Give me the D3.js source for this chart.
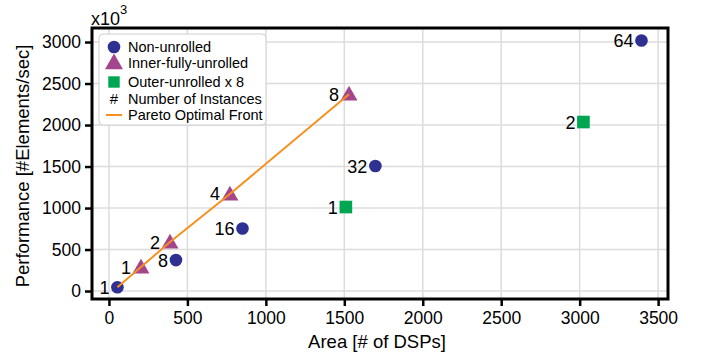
<!DOCTYPE html>
<html>
<head>
<meta charset="utf-8">
<script src="https://cdn.jsdelivr.net/npm/d3@7"></script>
<style>
  body { margin: 0; background: #fff; }
  svg { display: block; font-family: "Liberation Sans", Arial, Helvetica, sans-serif; }
</style>
</head>
<body>
<div id="chart"></div>
<script>
// data (performance in x10^3 elements/sec)
const nonArea = [54, 427, 851, 1698, 3394];
const nonPerf = [45, 373, 753, 1506, 3018];
const nonInst = [1, 8, 16, 32, 64];

const innerArea = [204, 389, 771, 1530];
const innerPerf = [289, 590, 1169, 2372];
const innerInst = [1, 2, 4, 8];

const outerArea = [1510, 3024];
const outerPerf = [1012, 2036];
const outerInst = [1, 2];

const paretoArea = [54, 204, 389, 771, 1530];
const paretoPerf = [45, 289, 590, 1169, 2372];

const xTicks = [0, 500, 1000, 1500, 2000, 2500, 3000, 3500];
const yTicks = [0, 500, 1000, 1500, 2000, 2500, 3000];

const legendNames = ["Non-unrolled", "Inner-fully-unrolled", "Outer-unrolled x 8", "Number of Instances", "Pareto Optimal Front"];

// colours
const navy = "#2e3192", purple = "#a3468e", green = "#00a651", orange = "#f7901e";

const width = 701, height = 356;
const plotL = 92, plotR = 668, plotT = 28, plotB = 299;

const svg = d3.select("#chart").append("svg")
  .attr("width", width)
  .attr("height", height);

const x = d3.scaleLinear().domain([-108, 3563]).range([plotL, plotR]);
const y = d3.scaleLinear().domain([-96, 3169]).range([plotB, plotT]);

// grid
svg.append("g").selectAll("line")
  .data(xTicks).enter().append("line")
    .attr("x1", d => x(d)).attr("x2", d => x(d))
    .attr("y1", plotT).attr("y2", plotB)
    .attr("stroke", "#dcdcdc").attr("stroke-width", 1.5);
svg.append("g").selectAll("line")
  .data(yTicks).enter().append("line")
    .attr("x1", plotL).attr("x2", plotR)
    .attr("y1", d => y(d)).attr("y2", d => y(d))
    .attr("stroke", "#dcdcdc").attr("stroke-width", 1.5);

// axes
const xAxis = svg.append("g")
  .attr("transform", "translate(0," + plotB + ")")
  .call(d3.axisBottom(x).tickValues(xTicks).tickSize(7).tickPadding(6).tickFormat(d3.format("d")));
const yAxis = svg.append("g")
  .attr("transform", "translate(" + plotL + ",0)")
  .call(d3.axisLeft(y).tickValues(yTicks).tickSize(7).tickPadding(4).tickFormat(d3.format("d")));

[xAxis, yAxis].forEach(a => {
  a.select(".domain").remove();
  a.selectAll(".tick line").attr("stroke", "#000").attr("stroke-width", 2.5);
  a.selectAll(".tick text")
    .attr("fill", "#000")
    .style("font-size", "17.5px")
    .style("font-family", "'Liberation Sans', Arial, sans-serif");
});

// frame
svg.append("rect")
  .attr("x", plotL).attr("y", plotT)
  .attr("width", plotR - plotL).attr("height", plotB - plotT)
  .attr("fill", "none").attr("stroke", "#000").attr("stroke-width", 3);

// axis titles
svg.append("text")
  .attr("x", 377).attr("y", 348)
  .attr("text-anchor", "middle")
  .style("font-size", "18.5px")
  .text("Area [# of DSPs]");
svg.append("text")
  .attr("transform", "translate(29,166) rotate(-90)")
  .attr("text-anchor", "middle")
  .style("font-size", "18.5px")
  .text("Performance [#Elements/sec]");

// x10^3
const mult = svg.append("text").attr("x", 91).attr("y", 25).style("font-size", "18px");
mult.append("tspan").text("x10");
mult.append("tspan").attr("dy", -11).style("font-size", "13px").text("3");

// series
const nonData = nonArea.map((a, i) => ({ a: a, p: nonPerf[i], n: nonInst[i] }));
const innerData = innerArea.map((a, i) => ({ a: a, p: innerPerf[i], n: innerInst[i] }));
const outerData = outerArea.map((a, i) => ({ a: a, p: outerPerf[i], n: outerInst[i] }));

const circleSym = d3.symbol().type(d3.symbolCircle).size(125);
const triSym = d3.symbol().type(d3.symbolTriangle).size(125);
const sqSym = d3.symbol().type(d3.symbolSquare).size(160);

function plotSeries(data, sym, color, dyTri, gap) {
  const g = svg.append("g");
  g.selectAll("path").data(data).enter().append("path")
    .attr("d", sym)
    .attr("transform", d => "translate(" + x(d.a) + "," + (y(d.p) + dyTri) + ")")
    .attr("fill", color);
  g.selectAll("text").data(data).enter().append("text")
    .attr("x", d => x(d.a) - gap)
    .attr("y", d => y(d.p))
    .attr("dy", "0.36em")
    .attr("text-anchor", "end")
    .style("font-size", "18px")
    .text(d => d.n);
}

plotSeries(nonData, circleSym, navy, 0, 8);
plotSeries(innerData, triSym, purple, 1.5, 10);
plotSeries(outerData, sqSym, green, 0, 8);

// pareto front
const line = d3.line().x(d => x(d[0])).y(d => y(d[1]));
svg.append("path")
  .datum(paretoArea.map((a, i) => [a, paretoPerf[i]]))
  .attr("d", line)
  .attr("fill", "none")
  .attr("stroke", orange)
  .attr("stroke-width", 2);

// legend
const lg = svg.append("g");
lg.append("rect")
  .attr("x", 99).attr("y", 34).attr("width", 167).attr("height", 91)
  .attr("rx", 4)
  .attr("fill", "#fff").attr("stroke", "#d0d0d0").attr("stroke-width", 1);
const rowY = [47, 63, 82, 99, 115];
lg.append("path").attr("d", circleSym).attr("transform", "translate(114," + rowY[0] + ")").attr("fill", navy);
lg.append("path").attr("d", d3.symbol().type(d3.symbolTriangle).size(140)).attr("transform", "translate(114," + (rowY[1] + 1) + ")").attr("fill", purple);
lg.append("path").attr("d", d3.symbol().type(d3.symbolSquare).size(130)).attr("transform", "translate(114," + rowY[2] + ")").attr("fill", green);
lg.append("text").attr("x", 114).attr("y", rowY[3]).attr("dy", "0.36em").attr("text-anchor", "middle").style("font-size", "15px").text("#");
lg.append("line").attr("x1", 106).attr("x2", 122).attr("y1", rowY[4]).attr("y2", rowY[4]).attr("stroke", orange).attr("stroke-width", 2);
lg.selectAll("text.lbl").data(legendNames).enter().append("text")
  .attr("class", "lbl")
  .attr("x", 128)
  .attr("y", (d, i) => rowY[i])
  .attr("dy", "0.36em")
  .style("font-size", "14.5px")
  .text(d => d);
</script>
</body>
</html>
